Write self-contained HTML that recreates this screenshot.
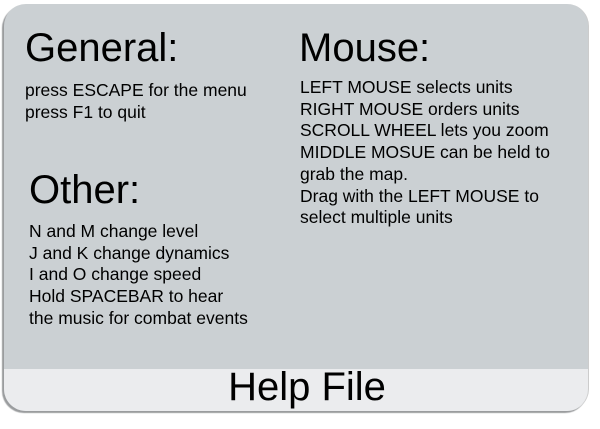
<!DOCTYPE html>
<html><head><style>
body{margin:0;width:600px;height:429px;background:#fff;overflow:hidden;font-family:"Liberation Sans",sans-serif;}
.panel{position:absolute;left:4px;top:4px;width:584px;height:407px;background:#cbd0d3;border-radius:22px;overflow:hidden;box-shadow:-2px 2px 1px #9a9c9e;border-right:1px solid #ccc;}
.band{position:absolute;left:0;top:365px;width:100%;height:42px;background:#ebecee;}
.h{position:absolute;font-size:40px;color:#000;line-height:40px;}
.t{position:absolute;font-size:17.5px;line-height:21.7px;color:#000;}
.foot{position:absolute;left:11px;width:100%;top:361px;text-align:center;font-size:40px;line-height:44px;}
</style></head><body>
<div class="panel">
<div class="band"></div>
<div class="h" style="left:21px;top:24px">General:</div>
<div class="t" style="left:21px;top:76px">press ESCAPE for the menu<br>press F1 to quit</div>
<div class="h" style="left:25px;top:166px">Other:</div>
<div class="t" style="left:25px;top:217px">N and M change level<br>J and K change dynamics<br>I and O change speed<br>Hold SPACEBAR to hear<br>the music for combat events</div>
<div class="h" style="left:295px;top:24px">Mouse:</div>
<div class="t" style="left:296px;top:73px">LEFT MOUSE selects units<br>RIGHT MOUSE orders units<br>SCROLL WHEEL lets you zoom<br>MIDDLE MOSUE can be held to<br>grab the map.<br>Drag with the LEFT MOUSE to<br>select multiple units</div>
<div class="foot">Help File</div>
</div>
</body></html>
